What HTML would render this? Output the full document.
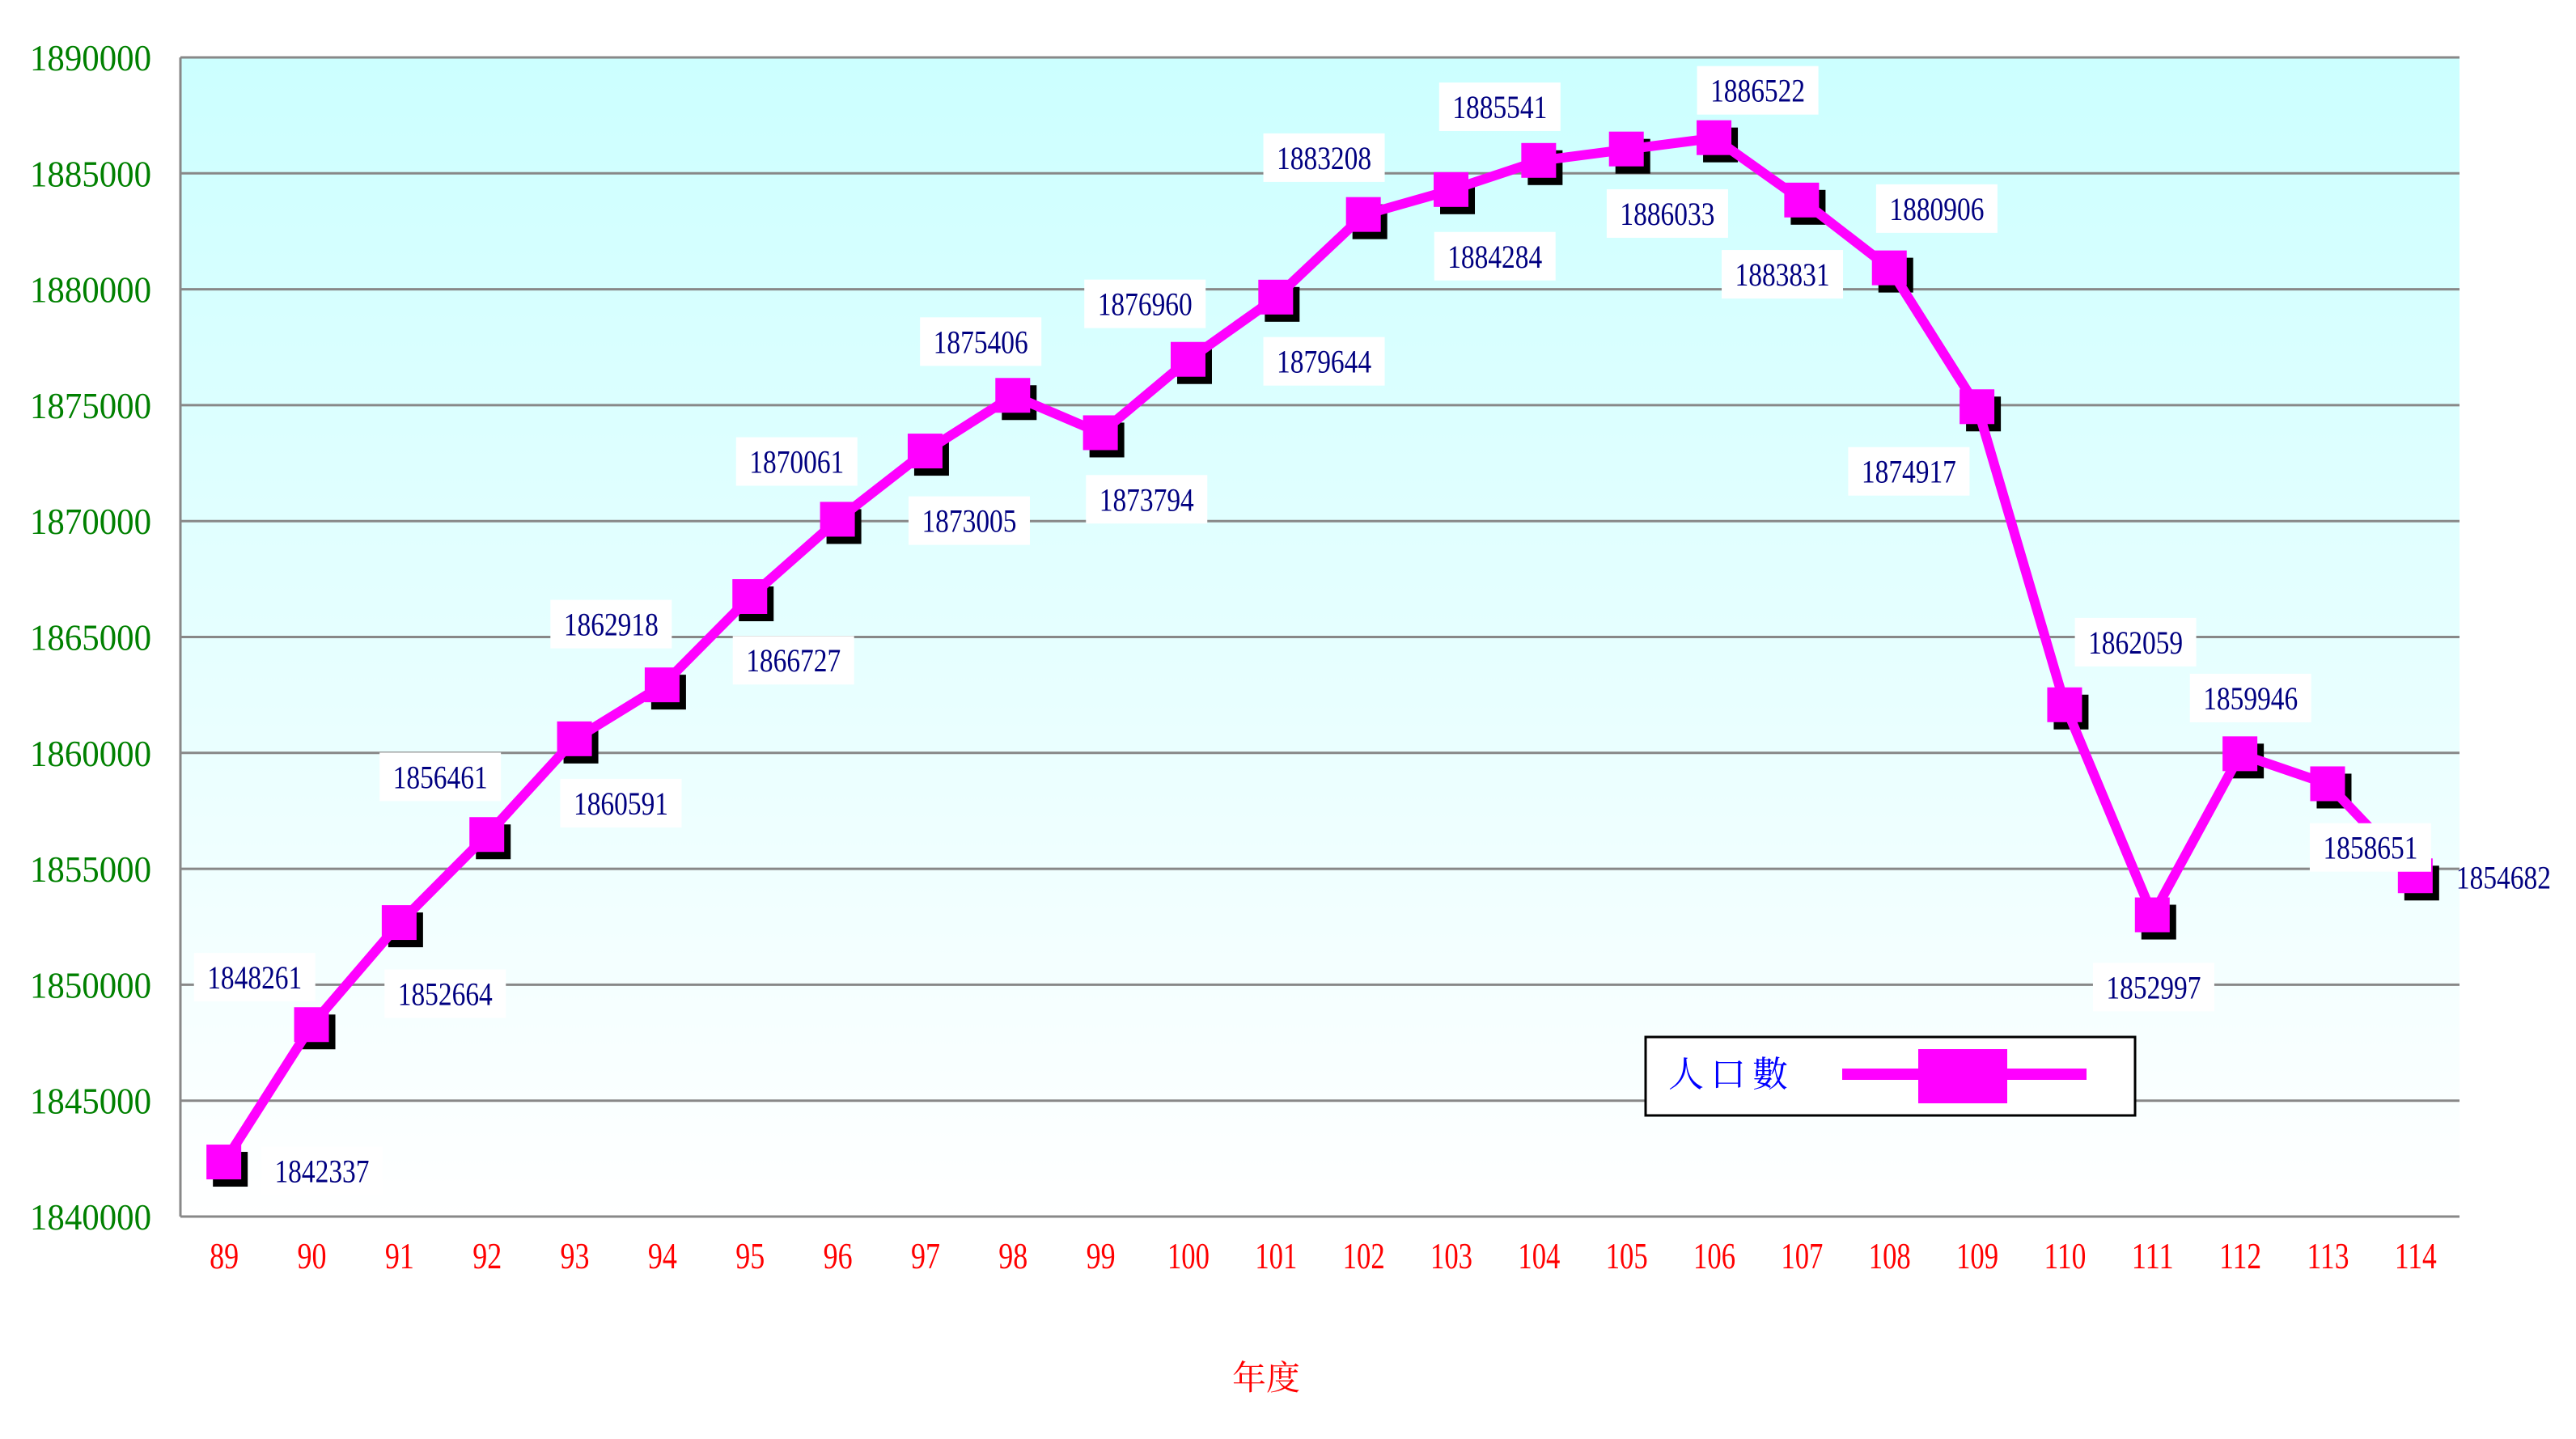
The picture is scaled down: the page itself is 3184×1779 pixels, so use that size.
<!DOCTYPE html>
<html><head><meta charset="utf-8"><style>
html,body{margin:0;padding:0;background:#fff;}
svg{display:block;}
</style></head><body>
<svg id="c" width="3184" height="1779" xmlns="http://www.w3.org/2000/svg">
<defs><linearGradient id="bg" x1="0" y1="0" x2="0" y2="1"><stop offset="0" stop-color="#ccffff"/><stop offset="1" stop-color="#ffffff"/></linearGradient></defs>
<rect x="223" y="71" width="2817" height="1433" fill="url(#bg)"/>
<g id="g"></g>
</svg>
<script>
var g=document.getElementById('g');var s='';
var L=223,R=3040,T=71,B=1504,st=143.3,cw=(R-L)/26;
function Y(v){return B-(v-1840000)/5000*st;}
function X(i){return L+cw*(i+0.5);}
for(var k=0;k<=10;k++){var y=T+k*st;s+='<line x1="'+L+'" x2="'+R+'" y1="'+y+'" y2="'+y+'" stroke="#888" stroke-width="3"/>';
s+='<text x="187" y="'+(y+16)+'" font-family="Liberation Serif,serif" font-size="46" fill="#008000" text-anchor="end" textLength="150" lengthAdjust="spacingAndGlyphs">'+(1890000-k*5000)+'</text>';}
s+='<line x1="'+L+'" x2="'+L+'" y1="'+T+'" y2="'+B+'" stroke="#888" stroke-width="3"/>';
var v=[1842337,1848261,1852664,1856461,1860591,1862918,1866727,1870061,1873005,1875406,1873794,1876960,1879644,1883208,1884284,1885541,1886033,1886522,1883831,1880906,1874917,1862059,1852997,1859946,1858651,1854682];
var lp=[[196,713],[155,595],[271,605],[268,473],[378,489],[372,380],[483,402],[485,281],[590,317],[597,208],[698,304],[697,185],[806,220],[806,96],[910,156],[913,65],[1015,130],[1070,55],[1085,167],[1179,127],[1162,287],[1300,391],[1311,601],[1370,425],[1443,516],[1524,534]];
for(var i=0;i<26;i++){
s+='<text x="'+X(i)+'" y="'+1568+'" font-family="Liberation Serif,serif" font-size="46" fill="#ff0000" text-anchor="middle" textLength="'+(i>=11?52:36)+'" lengthAdjust="spacingAndGlyphs">'+(89+i)+'</text>';}
for(var i=0;i<26;i++)s+='<rect x="'+(X(i)-14)+'" y="'+(Y(v[i])-13)+'" width="43" height="43" fill="#000"/>';
var p='';for(var i=0;i<26;i++)p+=X(i)+','+Y(v[i])+' ';
s+='<polyline points="'+p+'" fill="none" stroke="#ff00ff" stroke-width="12" stroke-linejoin="miter"/>';
for(var i=0;i<26;i++)s+='<rect x="'+(X(i)-22)+'" y="'+(Y(v[i])-22)+'" width="43" height="43" fill="#ff00ff"/>';
for(var i=0;i<26;i++){var lx=lp[i][0]/0.4925,ly=lp[i][1]/0.4925;
if(i<25)s+='<rect x="'+(lx-75)+'" y="'+(ly-30)+'" width="150" height="60" fill="#fff"/>';
s+='<text x="'+lx+'" y="'+(ly+14)+'" font-family="Liberation Serif,serif" font-size="40" fill="#000080" text-anchor="middle" textLength="117" lengthAdjust="spacingAndGlyphs">'+v[i]+'</text>';}
s+='<rect x="2034" y="1282" width="605" height="97" fill="#fff" stroke="#000" stroke-width="3"/>';
s+='<text x="2140" y="1343" font-family="Liberation Serif,Noto Serif CJK SC,serif" font-size="44" fill="#0000ff" text-anchor="middle" letter-spacing="8">人口數</text>';
s+='<rect x="2277" y="1321" width="302" height="14" fill="#ff00ff"/><rect x="2371" y="1297" width="110" height="67" fill="#ff00ff"/>';
s+='<text x="1565" y="1718" font-family="Liberation Serif,Noto Serif CJK SC,serif" font-size="42" fill="#ff0000" text-anchor="middle">年度</text>';
g.innerHTML=s;
</script>
</body></html>
